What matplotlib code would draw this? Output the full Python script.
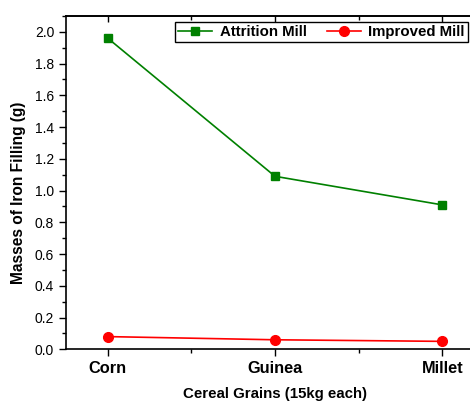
import numpy as np
import matplotlib.pyplot as plt
from matplotlib.ticker import MultipleLocator

grains = ['Corn', 'Guinea', 'Millet']
attrition = [1.96, 1.09, 0.91]
improved = [0.08, 0.06, 0.05]

plt.rcParams['font.family'] = ['Liberation Sans', 'DejaVu Sans']

fig = plt.figure(figsize=(4.7, 4.03), dpi=100)
ax = fig.add_axes([66 / 470, 1 - 349.3 / 403, 418 / 470, 333.3 / 403])

x = np.arange(len(grains))
ax.plot(x, attrition, color='#008000', marker='s', markersize=6, lw=1.2,
        label='Attrition Mill')
ax.plot(x, improved, color='#ff0000', marker='o', markersize=7, lw=1.2,
        label='Improved Mill')

ax.set_xlim(-0.25, 2.25)
ax.set_ylim(0, 2.1)
ax.set_xticks(x)
ax.set_xticklabels(grains, fontsize=11.8, fontweight='bold')
ax.xaxis.set_minor_locator(MultipleLocator(0.5))
ax.yaxis.set_major_locator(MultipleLocator(0.2))
ax.yaxis.set_minor_locator(MultipleLocator(0.1))
ax.yaxis.set_major_formatter(plt.FormatStrFormatter('%.1f'))
ax.tick_params(axis='y', labelsize=10)
ax.tick_params(which='major', direction='out', length=5, width=1)
ax.tick_params(which='minor', direction='out', length=3, width=1)

# top ticks point inward
top = ax.secondary_xaxis('top')
top.set_xticks(x)
top.xaxis.set_minor_locator(MultipleLocator(0.5))
top.tick_params(which='major', direction='in', length=4, width=1, labeltop=False)
top.tick_params(which='minor', direction='in', length=3, width=1)
top.spines['top'].set_linewidth(1.2)

for s in ax.spines.values():
    s.set_linewidth(1.2)

ax.set_xlabel('Cereal Grains (15kg each)', fontsize=10.8, fontweight='bold', labelpad=8)
ax.set_ylabel('Masses of Iron Filling (g)', fontsize=11.2, fontweight='bold')
ax.yaxis.set_label_coords(-0.095, 0.47)

leg = ax.legend(loc='upper left', bbox_to_anchor=((175 - 66) / 418, 1 - 6 / 333.3),
                ncol=2, fancybox=False, edgecolor='black', framealpha=1,
                prop={'size': 10.8, 'weight': 'bold'}, handlelength=2.3,
                columnspacing=1.3, handletextpad=0.5, borderpad=0.2,
                borderaxespad=0)
leg.get_frame().set_linewidth(1)

fig.savefig('out.png', dpi=100)
